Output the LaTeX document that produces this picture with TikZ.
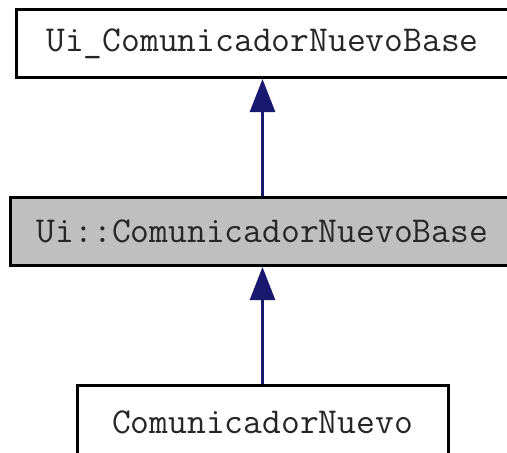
\documentclass[tikz,border=0pt]{standalone}
\usepackage{fontspec}
\usetikzlibrary{arrows.meta, positioning}
\definecolor{edgeblue}{HTML}{191970}
\definecolor{basegray}{HTML}{BFBFBF}

\begin{document}
\begin{tikzpicture}[
    x=1pt, y=1pt,
    node distance=117pt,
    every node/.style={font=\ttfamily\fontsize{36.5}{40}\selectfont, text=black!85},
    classbox/.style={draw=black, line width=3pt, minimum height=68pt, inner sep=0pt},
    inherit/.style={-{Triangle[width=25pt,length=33pt]}, line width=2.7pt, draw=edgeblue, fill=edgeblue}
]
    \useasboundingbox (0,0) rectangle (507,-453);
    \node (uibase) [classbox, minimum width=493pt] at (262.5,-43.5) {Ui\_ComunicadorNuevoBase};
    \node (base) [classbox, fill=basegray, minimum width=505pt, below=of uibase] {Ui::ComunicadorNuevoBase};
    \node (nuevo) [classbox, minimum width=371pt, minimum height=74pt, below=of base] {ComunicadorNuevo};

    \draw [inherit] (base) -- (uibase);
    \draw [inherit] (nuevo) -- (base);
\end{tikzpicture}
\end{document}
